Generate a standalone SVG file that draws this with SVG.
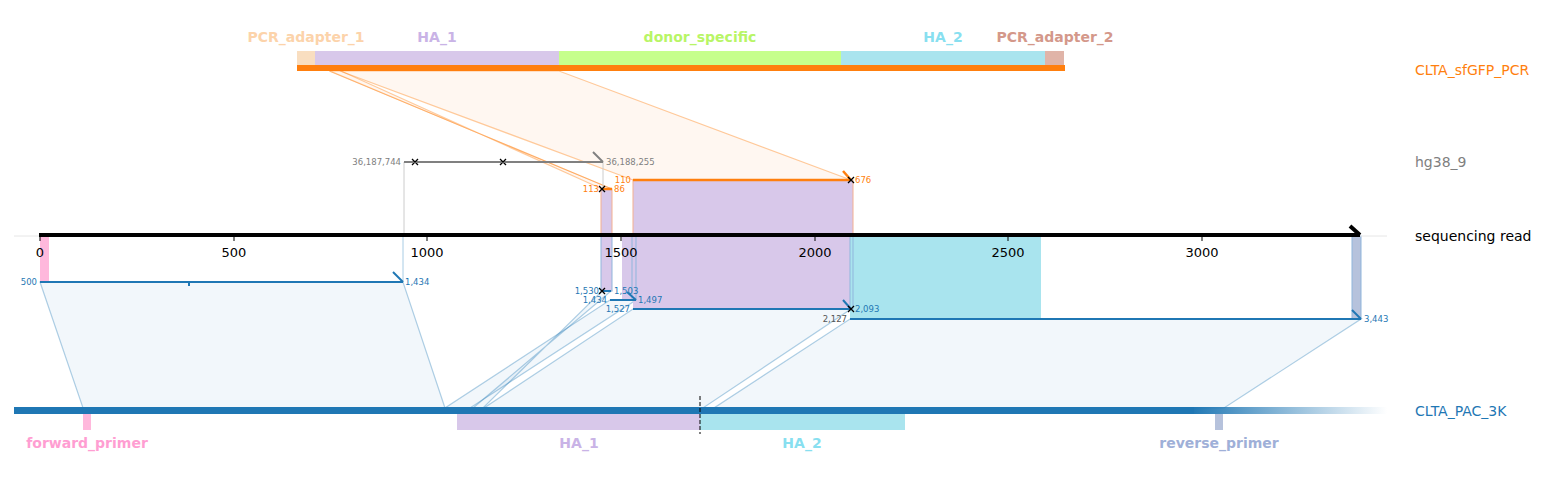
<svg xmlns="http://www.w3.org/2000/svg" width="1541" height="481" viewBox="0 0 1541 481">
<defs>
<style>
text{font-family:"DejaVu Sans","Liberation Sans",sans-serif}
.feat{font-size:14px;font-weight:bold;text-anchor:middle}
.track{font-size:14px}
.tick{font-size:13px;text-anchor:middle;fill:#000}
.num{font-size:8.5px}
.b{fill:#1f77b4}
.o{fill:#ff7f0e}
.g{fill:#808080}
.bl{stroke:#1f77b4;stroke-width:2;fill:none}
.ol{stroke:#ff7f0e;stroke-width:2.5;fill:none}
.conB{fill:#1f77b4;fill-opacity:0.06;stroke:#1f77b4;stroke-opacity:0.35;stroke-width:1.2}
.conO{fill:#ff7f0e;fill-opacity:0.06;stroke:#ff7f0e;stroke-opacity:0.4;stroke-width:1.2}
.x{stroke:#000;stroke-width:1.3}
</style>
<linearGradient id="fade" x1="0" x2="1" y1="0" y2="0">
<stop offset="0" stop-color="#1f77b4"/>
<stop offset="1" stop-color="#1f77b4" stop-opacity="0"/>
</linearGradient>
</defs>
<rect width="1541" height="481" fill="#fff"/>

<g id="connectors">
<!-- orange: PCR -> hg38 alignments -->
<polygon class="conO" points="340,71 559,71 851,180 633,180"/>
<polygon class="conO" points="330,71 341,71 602,189 612,189"/>
<line x1="329" y1="71" x2="612" y2="189" stroke="#ff7f0e" stroke-opacity="0.4"/>
<!-- blue: read -> PAC_3K -->
<polygon class="conB" points="40,282 403,282 445,408 83,408"/>
<polygon class="conB" points="610,300 636,300 470,408 445,408"/>
<polygon class="conB" points="602,291 611,291 473,408 483,408"/>
<polygon class="conB" points="633,309 851,309 703,408 484,408"/>
<polygon class="conB" points="850,319 1361,319 1224,408 714,408"/>
<!-- light vertical guides -->
<line x1="404" y1="162" x2="404" y2="236" stroke="#cccccc"/>
<line x1="603" y1="162" x2="603" y2="189" stroke="#cccccc"/>
<line x1="403" y1="236" x2="403" y2="282" stroke="#a8cce4"/>
</g>

<g id="read-features">
<rect x="40" y="236" width="9" height="46" fill="#ffb8dc"/>
<rect x="601" y="189" width="11" height="102" fill="#d8c8ea"/>
<rect x="633" y="180" width="220" height="129" fill="#d8c8ea"/>
<rect x="622" y="236" width="12" height="64" fill="#d8c8ea"/>
<rect x="850" y="236" width="191" height="83" fill="#a9e4ee"/>
<rect x="1352" y="236" width="9" height="83" fill="#b6c2dc"/>
<g fill="none" stroke-width="1">
<rect x="601" y="189" width="11" height="47" stroke="#f4b090"/>
<rect x="633" y="180" width="220" height="56" stroke="#f4b090"/>
<rect x="601" y="236" width="11" height="55" stroke="#8fb5dc"/>
<rect x="632" y="236" width="4" height="64" stroke="#8fb5dc"/>
<rect x="850" y="236" width="3" height="73" stroke="#8fb5dc"/>
<rect x="1352" y="236" width="9" height="83" stroke="#8fb5dc"/>
</g>
</g>

<g id="CLTA_sfGFP_PCR">
<rect x="297" y="51" width="18" height="14" fill="#f9dec0"/>
<rect x="315" y="51" width="244" height="14" fill="#d8c8ea"/>
<rect x="559" y="51" width="282" height="14" fill="#c6ff8c"/>
<rect x="841" y="51" width="204" height="14" fill="#a9e4ee"/>
<rect x="1045" y="51" width="19" height="14" fill="#e0b4a8"/>
<rect x="297" y="65" width="768" height="6" fill="#ff7f0e"/>
<text class="feat" x="306" y="42" fill="#fcd3aa">PCR_adapter_1</text>
<text class="feat" x="437" y="42" fill="#c9b3e6">HA_1</text>
<text class="feat" x="700" y="42" fill="#b8f566">donor_specific</text>
<text class="feat" x="943" y="42" fill="#88dff0">HA_2</text>
<text class="feat" x="1055" y="42" fill="#d4988a">PCR_adapter_2</text>
<text class="track o" x="1415" y="75">CLTA_sfGFP_PCR</text>
</g>

<g id="hg38_9">
<line x1="404" y1="162" x2="603" y2="162" stroke="#808080" stroke-width="2"/>
<line x1="593" y1="152" x2="603" y2="162" stroke="#808080" stroke-width="2"/>
<path class="x" d="M412,159l6,6M418,159l-6,6M500,159l6,6M506,159l-6,6"/>
<text class="num g" x="401" y="165" text-anchor="end">36,187,744</text>
<text class="num g" x="606" y="165">36,188,255</text>
<text class="track g" x="1415" y="167">hg38_9</text>
</g>

<g id="hg38-alignments">
<line class="ol" x1="602" y1="189" x2="612" y2="189"/>
<path class="x" d="M599,186l6,6M605,186l-6,6"/>
<text class="num o" x="599" y="192" text-anchor="end">113</text>
<text class="num o" x="614" y="192">86</text>
<line class="ol" x1="633" y1="180" x2="851" y2="180"/>
<line class="ol" x1="843" y1="171" x2="851" y2="180"/>
<path class="x" d="M848,177l6,6M854,177l-6,6"/>
<text class="num o" x="631" y="183" text-anchor="end">110</text>
<text class="num o" x="855" y="183">676</text>
</g>

<g id="sequencing_read">
<line x1="14" y1="236" x2="1387" y2="236" stroke="#e6e6e6"/>
<line x1="39" y1="235" x2="1360" y2="235" stroke="#000" stroke-width="4"/>
<line x1="1350" y1="226" x2="1360" y2="235" stroke="#000" stroke-width="4"/>
<g stroke="#000" stroke-width="1">
<line x1="40" y1="236" x2="40" y2="241"/>
<line x1="234" y1="236" x2="234" y2="241"/>
<line x1="427" y1="236" x2="427" y2="241"/>
<line x1="621" y1="236" x2="621" y2="241"/>
<line x1="815" y1="236" x2="815" y2="241"/>
<line x1="1008" y1="236" x2="1008" y2="241"/>
<line x1="1202" y1="236" x2="1202" y2="241"/>
</g>
<text class="tick" x="40" y="257">0</text>
<text class="tick" x="234" y="257">500</text>
<text class="tick" x="427" y="257">1000</text>
<text class="tick" x="621" y="257">1500</text>
<text class="tick" x="815" y="257">2000</text>
<text class="tick" x="1008" y="257">2500</text>
<text class="tick" x="1202" y="257">3000</text>
<text class="track" x="1415" y="241" fill="#000">sequencing read</text>
</g>

<g id="read-alignments">
<line class="bl" x1="40" y1="282" x2="403" y2="282"/>
<line class="bl" x1="393" y1="272" x2="403" y2="282"/>
<line x1="189" y1="282" x2="189" y2="286" stroke="#1f77b4" stroke-width="2"/>
<text class="num b" x="37" y="285" text-anchor="end">500</text>
<text class="num b" x="405" y="285">1,434</text>

<line class="bl" x1="602" y1="291" x2="611" y2="291"/>
<path class="x" d="M599,288l6,6M605,288l-6,6"/>
<text class="num b" x="599" y="294" text-anchor="end">1,530</text>
<text class="num b" x="614" y="294">1,503</text>

<line class="bl" x1="610" y1="300" x2="636" y2="300"/>
<line class="bl" x1="627" y1="292" x2="636" y2="300"/>
<text class="num b" x="607" y="303" text-anchor="end">1,434</text>
<text class="num b" x="638" y="303">1,497</text>

<line class="bl" x1="633" y1="309" x2="851" y2="309"/>
<line class="bl" x1="843" y1="300" x2="851" y2="309"/>
<path class="x" d="M848,306l6,6M854,306l-6,6"/>
<text class="num b" x="630" y="312" text-anchor="end">1,527</text>
<text class="num b" x="855" y="312">2,093</text>

<line class="bl" x1="850" y1="319" x2="1361" y2="319"/>
<line class="bl" x1="1352" y1="310" x2="1361" y2="319"/>
<text class="num" x="847" y="322" text-anchor="end" fill="#555">2,127</text>
<text class="num b" x="1364" y="322">3,443</text>
</g>

<g id="CLTA_PAC_3K">
<rect x="14" y="407" width="1180" height="7" fill="#1f77b4"/>
<rect x="1190" y="407" width="197" height="7" fill="url(#fade)"/>
<rect x="83" y="414" width="8" height="16" fill="#ffb8dc"/>
<rect x="457" y="414" width="243" height="16" fill="#d8c8ea"/>
<rect x="700" y="414" width="205" height="16" fill="#a9e4ee"/>
<rect x="1215" y="414" width="8" height="16" fill="#b6c2dc"/>
<line x1="700" y1="396" x2="700" y2="434" stroke="#000" stroke-width="1" stroke-dasharray="4,2"/>
<text class="feat" x="87" y="448" fill="#ff9ed2">forward_primer</text>
<text class="feat" x="579" y="448" fill="#c9b3e6">HA_1</text>
<text class="feat" x="802" y="448" fill="#88dff0">HA_2</text>
<text class="feat" x="1219" y="448" fill="#9fb0d8">reverse_primer</text>
<text class="track b" x="1415" y="416">CLTA_PAC_3K</text>
</g>
</svg>
